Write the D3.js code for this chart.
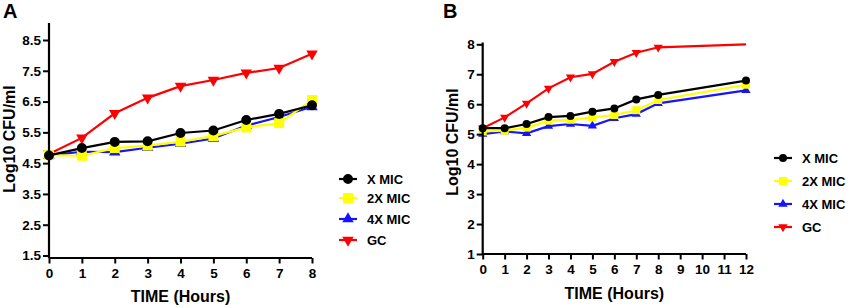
<!DOCTYPE html>
<html><head><meta charset="utf-8">
<script src="https://cdn.jsdelivr.net/npm/d3@7"></script>
<style>body{margin:0;background:#fff}svg{display:block;font-family:"Liberation Sans",Arial,sans-serif;font-weight:bold}</style>
</head><body><svg id="c" width="858" height="308"></svg>
<script>
const seriesNames = ["X MIC","2X MIC","4X MIC","GC"];
const seriesColors = ["#000000","#ffff00","#1414ff","#ff0000"];
const seriesSymbols = ["circle","square","triangle","triangleDown"];

const hoursA = [0,1,2,3,4,5,6,7,8];
const xMicA  = [4.75,4.99,5.19,5.21,5.48,5.56,5.9,6.1,6.38];
const x2MicA = [4.76,4.74,4.99,5.07,5.2,5.38,5.66,5.8,6.55];
const x4MicA = [4.75,4.87,4.86,5.0,5.13,5.3,5.72,6.0,6.33];
const gcA    = [4.8,5.32,6.12,6.62,7.0,7.2,7.43,7.59,8.05];
const yTicksA = [1.5,2.5,3.5,4.5,5.5,6.5,7.5,8.5];
const xTicksA = [0,1,2,3,4,5,6,7,8];

const hoursB = [0,1,2,3,4,5,6,7,8,12];
const xMicB  = [5.2,5.2,5.34,5.57,5.61,5.75,5.86,6.16,6.31,6.79];
const x2MicB = [5.09,5.12,5.22,5.45,5.48,5.56,5.64,5.8,6.14,6.65];
const x4MicB = [5.0,5.09,5.03,5.27,5.34,5.28,5.53,5.67,6.03,6.46];
const gcB    = [5.2,5.56,6.03,6.53,6.9,7.01,7.42,7.72,7.9,8.0];
const yTicksB = [1,2,3,4,5,6,7,8];
const xTicksB = [0,1,2,3,4,5,6,7,8,9,10,11,12];

const svg = d3.select("#c");

function sym(g, type, x, y, size, color){
  let path;
  if(type==="circle") path = d3.symbol(d3.symbolCircle, size*size*0.785)();
  else if(type==="square") path = d3.symbol(d3.symbolSquare, size*size)();
  else {
    const s = size*1.15;
    path = d3.symbol(d3.symbolTriangle, s*s*0.433)();
  }
  return g.append("path").attr("d", path).attr("fill", color)
    .attr("transform", `translate(${x},${y})` + (type==="triangleDown" ? " rotate(180)" : ""));
}

function panel(opt){
  const g = svg.append("g");
  const x = d3.scaleLinear().domain(opt.xDomain).range(opt.xRange);
  const y = d3.scaleLinear().domain(opt.yDomain).range(opt.yRange);
  const data = [opt.xMic, opt.x2Mic, opt.x4Mic, opt.gc];
  const order = [3,2,1,0];
  order.forEach(i=>{
    const pts = opt.hours.map((h,k)=>[h, data[i][k]]);
    g.append("path").datum(pts).attr("fill","none").attr("stroke",seriesColors[i])
      .attr("stroke-width",2.2)
      .attr("d", d3.line().x(d=>x(d[0])).y(d=>y(d[1])));
    pts.forEach((d,k)=>{
      if(opt.markerSkip && opt.markerSkip(i,k)) return;
      sym(g, seriesSymbols[i], x(d[0]), y(d[1]), opt.msize, seriesColors[i]);
    });
  });
  const xa = g.append("g").attr("transform",`translate(0,${opt.xAxisY})`)
    .call(d3.axisBottom(x).tickValues(opt.xTicks).tickSize(5.5).tickPadding(opt.xPad).tickFormat(d3.format("d")));
  const ya = g.append("g").attr("transform",`translate(${opt.xRange[0]},0)`)
    .call(d3.axisLeft(y).tickValues(opt.yTicks).tickSize(6).tickPadding(2).tickFormat(opt.yFmt));
  [xa,ya].forEach(a=>{
    a.select(".domain").attr("stroke","#000").attr("stroke-width",2.2);
    a.selectAll(".tick line").attr("stroke","#000").attr("stroke-width",2);
    a.selectAll("text").attr("font-size",13.5).attr("font-weight","bold").attr("fill","#000")
      .attr("font-family","'Liberation Sans',Arial,sans-serif");
  });
  ya.select(".domain").attr("d",`M-0,${opt.yTopPx}V${opt.xAxisY}`);
  xa.select(".domain").attr("d",`M${opt.xRange[0]},0H${opt.xRange[1]}`);
  g.append("text").attr("x",(opt.xRange[0]+opt.xRange[1])/2).attr("y",opt.xTitleY)
    .attr("text-anchor","middle").attr("font-size",16).text("TIME (Hours)");
  g.append("text").attr("transform",`translate(${opt.yTitleX},${opt.yTitleCY}) rotate(-90)`)
    .attr("text-anchor","middle").attr("font-size",16).text("Log10 CFU/ml");
  g.append("text").attr("x",opt.labelX).attr("y",18).attr("font-size",20).text(opt.label);
  seriesNames.forEach((n,i)=>{
    const ly = opt.legY[i];
    const lx = opt.legX;
    g.append("line").attr("x1",lx-9).attr("x2",lx+9).attr("y1",ly).attr("y2",ly)
      .attr("stroke",seriesColors[i]).attr("stroke-width",2.2);
    sym(g, seriesSymbols[i], lx, ly, opt.msize, seriesColors[i]);
    g.append("text").attr("x",opt.legTextX).attr("y",ly+4.5).attr("font-size",13).text(n);
  });
}

panel({
  hours:hoursA, xMic:xMicA, x2Mic:x2MicA, x4Mic:x4MicA, gc:gcA,
  xDomain:[0,8], xRange:[49,312], yDomain:[1.5,8.5], yRange:[255.5,40],
  xTicks:xTicksA, yTicks:yTicksA, yFmt:d3.format(".1f"),
  xAxisY:258, yTopPx:23, xPad:5, xTitleY:301.5, yTitleX:15, yTitleCY:139,
  label:"A", labelX:3, msize:10,
  legX:348, legTextX:367, legY:[179,198,219,240]
});
panel({
  hours:hoursB, xMic:xMicB, x2Mic:x2MicB, x4Mic:x4MicB, gc:gcB,
  xDomain:[0,12], xRange:[482.7,746], yDomain:[1,8], yRange:[254,44.3],
  xTicks:xTicksB, yTicks:yTicksB, yFmt:d3.format("d"),
  xAxisY:254, yTopPx:42.5, xPad:4.5, xTitleY:299, yTitleX:457.5, yTitleCY:142,
  label:"B", labelX:443, msize:8,
  markerSkip:(i,k)=> i===3 && k===9,
  legX:783, legTextX:802, legY:[158,181,204,227]
});
</script></body></html>
